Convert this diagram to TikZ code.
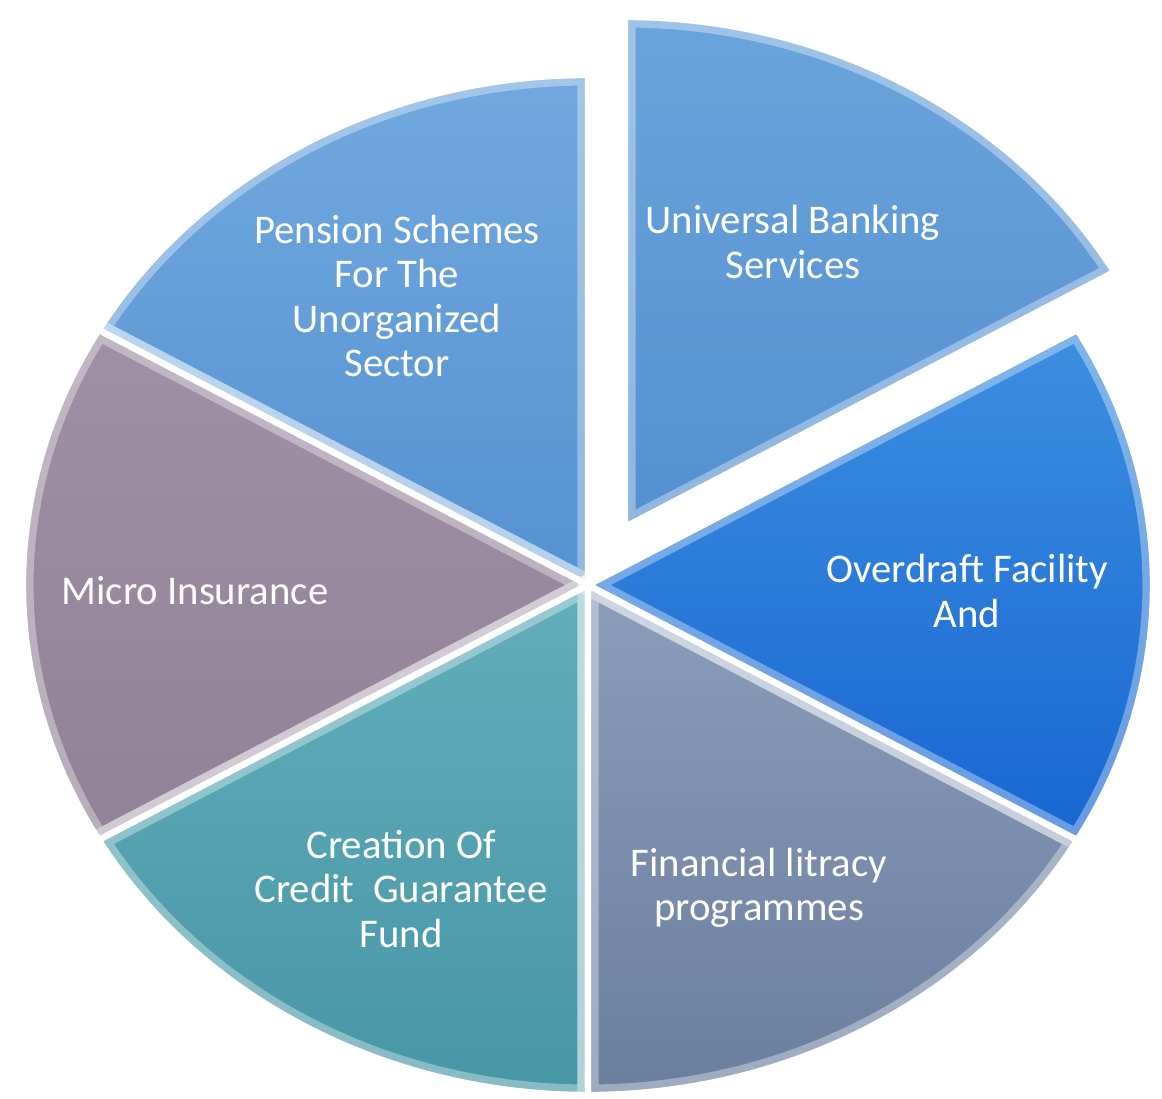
\documentclass[tikz,border=0pt]{standalone}
\usepackage{fontspec}
\setmainfont{Carlito}
\usepackage{tikz}

\definecolor{pensiontop}{HTML}{72A8DE}
\definecolor{pensionbot}{HTML}{5592D2}
\definecolor{univtop}{HTML}{6AA4DC}
\definecolor{univbot}{HTML}{5490D0}
\definecolor{drafttop}{HTML}{3D8FE0}
\definecolor{draftbot}{HTML}{1866D2}
\definecolor{fintop}{HTML}{8D9DBB}
\definecolor{finbot}{HTML}{6A7E9E}
\definecolor{credtop}{HTML}{62AEBB}
\definecolor{credbot}{HTML}{4796A6}
\definecolor{microtop}{HTML}{A090A6}
\definecolor{microbot}{HTML}{928297}

\begin{document}
\begin{tikzpicture}[semithick,
    slice/.style={draw=white, line width=1.8pt, line join=round,
      postaction={draw=white, opacity=0.35, line width=6pt, line join=round}},
    pie/.style={x radius=5.65, y radius=5.10},
    txt/.style={text=white, align=center, font=\fontsize{11.6}{12.6}\selectfont}]
  \useasboundingbox (0,0) rectangle (11.62,10.99);
  \coordinate (o) at (5.88,5.14);
  \coordinate (ou) at (6.25,5.72); % centre of the pulled-out slice

  % pension schemes (top left)
  \draw[slice, top color=pensiontop, bottom color=pensionbot]
    (o) -- +(90:5.65 and 5.10) arc[pie, start angle=90, end angle=150] -- cycle;
  % micro insurance (left)
  \draw[slice, top color=microtop, bottom color=microbot]
    (o) -- +(150:5.65 and 5.10) arc[pie, start angle=150, end angle=210] -- cycle;
  % credit guarantee fund (bottom left)
  \draw[slice, top color=credtop, bottom color=credbot]
    (o) -- +(210:5.65 and 5.10) arc[pie, start angle=210, end angle=270] -- cycle;
  % financial literacy (bottom right)
  \draw[slice, top color=fintop, bottom color=finbot]
    (o) -- +(270:5.65 and 5.10) arc[pie, start angle=270, end angle=330] -- cycle;
  % overdraft (right)
  \draw[slice, top color=drafttop, bottom color=draftbot]
    (o) -- +(-30:5.65 and 5.10) arc[pie, start angle=-30, end angle=30] -- cycle;
  % universal banking, pulled out of the pie
  \draw[slice, top color=univtop, bottom color=univbot]
    (ou) -- +(30:5.65 and 5.10) arc[pie, start angle=30, end angle=90] -- cycle;

  \node[txt] (pension)   at (3.97,8.03) {Pension Schemes\\For The\\Unorganized\\Sector};
  \node[txt] (universal) at (7.93,8.57) {Universal Banking\\Services};
  \node[txt] (overdraft) at (9.67,5.08) {Overdraft Facility\\And};
  \node[txt] (financial) at (7.59,2.11) {Financial litracy\\programmes};
  \node[txt] (credit)    at (4.01,2.10) {Creation Of\\Credit\ \ Guarantee\\Fund};
  \node[txt] (micro)     at (1.95,5.08) {Micro Insurance};
\end{tikzpicture}
\end{document}
